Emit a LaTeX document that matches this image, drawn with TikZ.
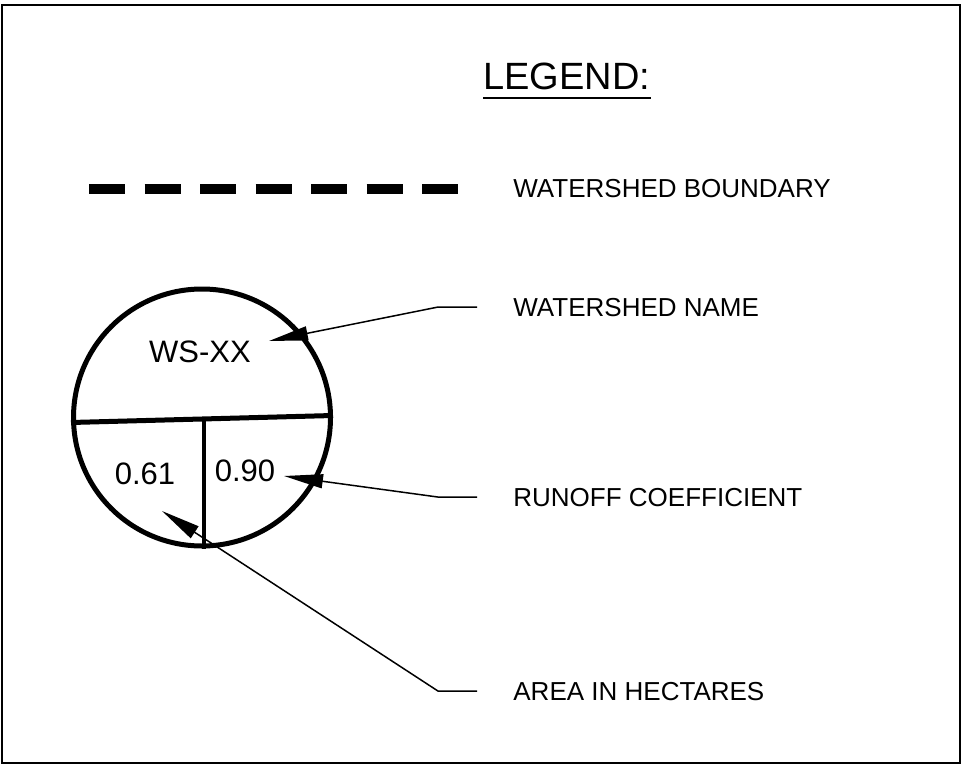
\documentclass[tikz,border=0pt]{standalone}
\usepackage{fontspec}
\setmainfont{Liberation Sans}
\usetikzlibrary{arrows.meta}
\begin{document}
\begin{tikzpicture}[x=0.5pt, y=-0.5pt,
  lbl/.style={anchor=base west, inner sep=0pt, font=\fontsize{13}{13}\selectfont},
  val/.style={inner sep=0pt, font=\fontsize{15.5}{15.5}\selectfont},
  leader/.style={line width=0.75pt, -{Triangle[length=19.5pt, width=7pt]}}]
\useasboundingbox (0,0) rectangle (968,770);
\draw[line width=1.25pt] (2,5) rectangle (960,763);
\node[anchor=base west, inner sep=0pt, font=\fontsize{19}{19}\selectfont] (legend) at (483,90) {LEGEND:};
\draw[line width=1pt] ([yshift=-3.5pt]legend.south west) -- ([yshift=-3.5pt]legend.south east);
% boundary symbol
\coordinate (bstart) at (89,189); \coordinate (bend) at (458,189);
\draw[line width=5pt, dash pattern=on 18pt off 9.75pt] (bstart) -- (bend);
\node[lbl] (bnd) at (513,198) {WATERSHED BOUNDARY};
\node[lbl] (wsname) at (513,316) {WATERSHED NAME};
\node[lbl] (runoff) at (513,506) {RUNOFF COEFFICIENT};
\node[lbl] (area) at (513,700) {AREA IN HECTARES};
% watershed tag
\node[circle, draw, line width=2.5pt, minimum size=128.5pt, inner sep=0pt] (ws) at (202,417.5) {};
\draw[line width=2.5pt] ([yshift=-2.5pt]ws.west) -- ([yshift=1pt]ws.east);
\draw[line width=2pt] ([xshift=1pt]ws.center) -- ([xshift=1pt]ws.south);
\node[val] (wsxx) at (200,352) {WS-XX};
\node[val] (hect) at (145,474) {0.61};
\node[val] (coef) at (245,471) {0.90};
% leaders
\coordinate (nametip) at (269,341);
\coordinate (coeftip) at (284,476);
\coordinate (areatip) at (162,511);
\foreach \lab/\tip in {wsname/nametip, runoff/coeftip, area/areatip}
  \draw[leader] ([xshift=-18pt]\lab.west) -- ++(-39,0) -- (\tip);
\end{tikzpicture}
\end{document}
